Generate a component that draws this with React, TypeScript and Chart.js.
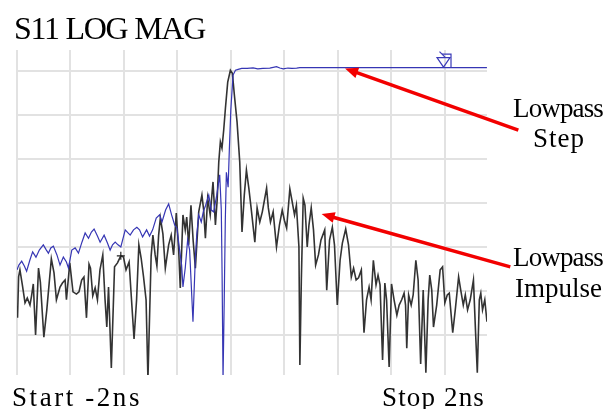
import React, { useEffect, useRef } from "react";
import { Chart, registerables } from "chart.js";

Chart.register(...registerables);

// ---- data (time in ns, magnitude in dB) ----
const impulseTimes = [
  -2.000, -1.996, -1.988, -1.978, -1.960, -1.940, -1.923, -1.903, -1.891, -1.878,
  -1.861, -1.839, -1.825, -1.799, -1.777, -1.743, -1.723, -1.705, -1.678, -1.660,
  -1.640, -1.630, -1.605, -1.581, -1.555, -1.536, -1.516, -1.499, -1.480, -1.461,
  -1.450, -1.433, -1.415, -1.398, -1.379, -1.358, -1.341, -1.328, -1.315, -1.294,
  -1.270, -1.248, -1.223, -1.203, -1.184, -1.161, -1.143, -1.124, -1.105, -1.088,
  -1.071, -1.053, -1.034, -1.020, -0.996, -0.983, -0.966, -0.953, -0.940, -0.927,
  -0.908, -0.890, -0.865, -0.846, -0.828, -0.808, -0.790, -0.778, -0.758, -0.741,
  -0.730, -0.715, -0.698, -0.682, -0.665, -0.640, -0.616, -0.603, -0.590, -0.573,
  -0.554, -0.533, -0.515, -0.502, -0.490, -0.478, -0.466, -0.453, -0.440, -0.423,
  -0.403, -0.388, -0.373, -0.353, -0.333, -0.316, -0.299, -0.283, -0.265, -0.248,
  -0.220, -0.203, -0.183, -0.164, -0.132, -0.119, -0.103, -0.083, -0.058, -0.036,
  -0.015, 0.001, 0.018, 0.042, 0.057, 0.077, 0.091, 0.110, 0.117, 0.128,
  0.142, 0.155, 0.172, 0.185, 0.202, 0.219, 0.235, 0.256, 0.275, 0.303,
  0.318, 0.339, 0.360, 0.376, 0.397, 0.418, 0.435, 0.460, 0.481, 0.502,
  0.519, 0.538, 0.556, 0.577, 0.597, 0.616, 0.635, 0.650, 0.667, 0.687,
  0.702, 0.717, 0.736, 0.753, 0.766, 0.785, 0.803, 0.822, 0.843, 0.860,
  0.879, 0.897, 0.908, 0.917, 0.931, 0.950, 0.965, 0.985, 1.002, 1.021,
  1.040, 1.060, 1.077, 1.089, 1.104, 1.117, 1.141, 1.167, 1.185, 1.202,
  1.220, 1.235, 1.261, 1.280, 1.305, 1.321, 1.340, 1.355, 1.372, 1.392,
  1.416, 1.433, 1.445, 1.460, 1.471, 1.484, 1.501, 1.517,
];
const impulseDb = [
  -53.6, -56.1, -46.8, -45.2, -48.6, -52.7, -51.6, -53.2, -51.1, -48.4,
  -60.0, -44.8, -48.0, -60.5, -54.3, -42.7, -45.9, -52.0, -49.1, -48.2,
  -47.5, -52.0, -43.6, -50.2, -50.7, -50.2, -47.5, -46.8, -56.1, -43.9,
  -44.8, -51.1, -49.3, -52.0, -45.2, -41.8, -52.0, -58.2, -49.1, -67.5,
  -44.5, -43.6, -42.0, -42.3, -45.2, -43.4, -52.0, -60.9, -52.0, -39.5,
  -42.5, -46.8, -52.0, -70.0, -42.0, -37.3, -41.8, -44.3, -37.3, -33.4,
  -37.0, -44.8, -39.5, -37.3, -41.8, -32.3, -40.7, -49.3, -32.7, -36.1,
  -33.2, -39.5, -30.5, -38.4, -44.8, -32.0, -28.2, -31.6, -38.0, -28.9,
  -32.7, -25.2, -35.0, -29.3, -20.7, -16.1, -17.5, -13.4, -8.4, -2.5,
  0.2, -0.5, -5.5, -11.6, -20.7, -36.6, -28.2, -22.5, -26.6, -31.1,
  -38.9, -31.1, -34.3, -32.0, -26.6, -31.1, -34.3, -32.0, -40.0, -35.0,
  -31.6, -33.9, -35.7, -26.8, -29.3, -32.7, -30.5, -40.0, -66.8, -47.5,
  -28.9, -30.5, -40.0, -35.0, -31.1, -36.1, -44.1, -41.8, -38.4, -36.1,
  -49.8, -38.4, -35.5, -39.5, -53.2, -43.0, -39.1, -35.9, -39.5, -46.8,
  -44.8, -47.5, -47.0, -45.2, -59.5, -52.0, -49.1, -52.0, -43.0, -48.6,
  -46.4, -48.6, -65.7, -48.2, -52.0, -67.3, -48.4, -52.0, -55.5, -53.2,
  -52.0, -50.5, -53.2, -63.0, -50.9, -53.2, -50.9, -43.0, -47.5, -66.6,
  -49.8, -68.6, -52.0, -46.4, -49.8, -58.2, -53.2, -45.2, -44.5, -52.7,
  -50.9, -50.5, -59.5, -54.3, -46.8, -49.8, -53.2, -50.9, -54.3, -52.0,
  -47.5, -60.2, -68.6, -52.0, -50.5, -54.3, -52.0, -57.0,
];

const stepTimes = [
  -2.000, -1.986, -1.965, -1.945, -1.928, -1.904, -1.883, -1.858, -1.833, -1.803,
  -1.780, -1.765, -1.747, -1.728, -1.701, -1.678, -1.653, -1.630, -1.615, -1.590,
  -1.565, -1.540, -1.514, -1.490, -1.465, -1.443, -1.423, -1.398, -1.378, -1.348,
  -1.323, -1.303, -1.285, -1.265, -1.244, -1.223, -1.190, -1.169, -1.153, -1.128,
  -1.103, -1.083, -1.060, -1.030, -1.008, -0.985, -0.958, -0.933, -0.915, -0.888,
  -0.865, -0.843, -0.820, -0.803, -0.783, -0.768, -0.758, -0.741, -0.723, -0.708,
  -0.683, -0.666, -0.655, -0.640, -0.621, -0.606, -0.588, -0.565, -0.546, -0.528,
  -0.505, -0.483, -0.471, -0.465, -0.458, -0.449, -0.441, -0.433, -0.420, -0.411,
  -0.400, -0.383, -0.365, -0.345, -0.318, -0.278, -0.233, -0.198, -0.160, -0.108,
  -0.058, -0.033, -0.008, 0.028, 0.057, 0.093, 0.117, 0.600, 1.100, 1.517,
];
const stepDb = [
  -45.2, -44.1, -43.2, -44.3, -45.5, -43.0, -41.1, -42.3, -40.7, -39.5,
  -40.7, -41.4, -40.2, -39.8, -41.8, -44.1, -42.3, -43.4, -44.8, -40.7,
  -40.2, -41.4, -38.9, -36.8, -38.0, -36.6, -35.9, -37.5, -38.9, -37.3,
  -39.1, -40.7, -39.5, -38.9, -39.5, -40.0, -36.1, -36.8, -37.3, -36.1,
  -35.5, -36.1, -37.7, -36.1, -37.5, -36.1, -33.4, -32.7, -34.3, -31.6,
  -30.2, -32.7, -35.0, -35.7, -40.7, -44.1, -49.1, -44.8, -38.4, -40.7,
  -57.0, -43.0, -37.3, -32.7, -34.3, -32.0, -30.5, -28.2, -31.6, -32.0,
  -28.2, -23.6, -31.6, -46.4, -70.0, -52.0, -33.9, -23.0, -26.4, -18.0,
  -8.9, -0.9, 0.2, 0.4, 0.6, 0.6, 0.75, 0.5, 0.6, 0.7,
  1.0, 0.7, 0.5, 0.7, 0.6, 0.7, 0.8, 0.8, 0.8, 0.8,
];

const gridTimes = [-2, -1.6, -1.2, -0.8, -0.4, 0, 0.4, 0.8, 1.2];
const gridDb = [0, -10, -20, -30, -40, -50, -60];
const timeMin = -2;
const timeMax = 1.5175;
const dbMin = -69.1;
const dbMax = 4.8;

const titleLabel = "S11 LOG MAG";
const startLabel = "Start -2ns";
const stopLabel = "Stop 2ns";
const stepLabelLines = ["Lowpass", "Step"];
const impulseLabelLines = ["Lowpass", "Impulse"];

// annotation anchors in data coordinates
const stepArrow = { tipT: 0.455, tipDb: 0.6, tailT: 1.752, tailDb: -13.4 };
const impulseArrow = { tipT: 0.28, tipDb: -32.5, tailT: 1.692, tailDb: -44.5 };
const stepMarker = { t: 1.192, db: 0.8 };
const impulseMarker = { t: -1.223, db: -42.0 };

const FONT = '"Liberation Serif", "Times New Roman", serif';

function fitText(ctx: CanvasRenderingContext2D, text: string, x: number, y: number, width: number, size: number) {
  ctx.save();
  ctx.font = `${size}px ${FONT}`;
  ctx.fillStyle = "#000";
  ctx.textAlign = "left";
  ctx.textBaseline = "alphabetic";
  (ctx as any).letterSpacing = "0px";
  const w = ctx.measureText(text).width;
  const ls = (width - w) / text.length;
  (ctx as any).letterSpacing = `${ls}px`;
  ctx.fillText(text, x, y);
  ctx.restore();
}

function drawArrow(ctx: CanvasRenderingContext2D, x0: number, y0: number, x1: number, y1: number) {
  const ang = Math.atan2(y1 - y0, x1 - x0);
  const headLen = 13;
  const headHalf = 5.5;
  const bx = x1 - headLen * Math.cos(ang);
  const by = y1 - headLen * Math.sin(ang);
  ctx.save();
  ctx.strokeStyle = "#f20000";
  ctx.fillStyle = "#f20000";
  ctx.lineWidth = 3.5;
  ctx.beginPath();
  ctx.moveTo(x0, y0);
  ctx.lineTo(bx + 2 * Math.cos(ang), by + 2 * Math.sin(ang));
  ctx.stroke();
  ctx.beginPath();
  ctx.moveTo(x1, y1);
  ctx.lineTo(bx + headHalf * Math.sin(ang), by - headHalf * Math.cos(ang));
  ctx.lineTo(bx - headHalf * Math.sin(ang), by + headHalf * Math.cos(ang));
  ctx.closePath();
  ctx.fill();
  ctx.restore();
}

const overlayPlugin = {
  id: "overlay",
  afterDraw(chart: any) {
    const ctx: CanvasRenderingContext2D = chart.ctx;
    const xs = chart.scales.x;
    const ys = chart.scales.y;

    // step marker (triangle + flag)
    const mx = xs.getPixelForValue(stepMarker.t);
    const my = ys.getPixelForValue(stepMarker.db);
    ctx.save();
    ctx.strokeStyle = "#3a3ab8";
    ctx.lineWidth = 1.2;
    ctx.beginPath();
    ctx.moveTo(mx - 6.5, my - 10);
    ctx.lineTo(mx + 6.5, my - 10);
    ctx.lineTo(mx, my - 0.5);
    ctx.closePath();
    ctx.stroke();
    ctx.beginPath();
    ctx.moveTo(mx - 1.5, my - 13.5);
    ctx.lineTo(mx + 7.5, my - 13.5);
    ctx.lineTo(mx + 7.5, my);
    ctx.stroke();
    ctx.beginPath();
    ctx.moveTo(mx - 4, my - 16);
    ctx.lineTo(mx + 1.5, my - 10.5);
    ctx.stroke();
    ctx.restore();

    // impulse marker "+"
    const ix = xs.getPixelForValue(impulseMarker.t);
    const iy = ys.getPixelForValue(impulseMarker.db);
    ctx.save();
    ctx.strokeStyle = "#222";
    ctx.lineWidth = 1.2;
    ctx.beginPath();
    ctx.moveTo(ix - 4, iy);
    ctx.lineTo(ix + 4, iy);
    ctx.moveTo(ix, iy - 4);
    ctx.lineTo(ix, iy + 4);
    ctx.stroke();
    ctx.restore();

    // arrows
    drawArrow(ctx, xs.getPixelForValue(stepArrow.tailT), ys.getPixelForValue(stepArrow.tailDb),
      xs.getPixelForValue(stepArrow.tipT), ys.getPixelForValue(stepArrow.tipDb));
    drawArrow(ctx, xs.getPixelForValue(impulseArrow.tailT), ys.getPixelForValue(impulseArrow.tailDb),
      xs.getPixelForValue(impulseArrow.tipT), ys.getPixelForValue(impulseArrow.tipDb));

    // texts
    fitText(ctx, titleLabel, 14, 39, 191, 32);
    fitText(ctx, stepLabelLines[0], 513, 117, 90, 27);
    fitText(ctx, stepLabelLines[1], 533, 147, 52, 27);
    fitText(ctx, impulseLabelLines[0], 513, 266, 90, 27);
    fitText(ctx, impulseLabelLines[1], 515, 297, 87, 27);
    fitText(ctx, startLabel, 12, 406, 130, 27);
    fitText(ctx, stopLabel, 382, 406, 103, 27);
  },
};

export default function App() {
  const canvasRef = useRef<HTMLCanvasElement | null>(null);

  useEffect(() => {
    const canvas = canvasRef.current;
    if (!canvas) return;
    const chart = new Chart(canvas, {
      type: "line",
      data: {
        datasets: [
          {
            label: "Lowpass Step",
            data: stepTimes.map((t, i) => ({ x: t, y: stepDb[i] })),
            borderColor: "#3636b4",
            borderWidth: 1.2,
            pointRadius: 0,
            tension: 0,
            clip: 0,
          },
          {
            label: "Lowpass Impulse",
            data: impulseTimes.map((t, i) => ({ x: t, y: impulseDb[i] })),
            borderColor: "#333333",
            borderWidth: 1.6,
            pointRadius: 0,
            tension: 0,
            clip: 0,
          },
        ],
      },
      options: {
        animation: false,
        responsive: false,
        devicePixelRatio: 1,
        layout: { padding: { left: 17, top: 50, right: 118, bottom: 34 } },
        plugins: {
          legend: { display: false },
          tooltip: { enabled: false },
          title: { display: false },
        },
        scales: {
          x: {
            type: "linear",
            min: timeMin,
            max: timeMax,
            afterBuildTicks: (scale: any) => {
              scale.ticks = gridTimes.map((v) => ({ value: v }));
            },
            ticks: { display: false },
            grid: { color: "#e2e2e2", lineWidth: 2, drawTicks: false },
            border: { display: false },
          },
          y: {
            type: "linear",
            min: dbMin,
            max: dbMax,
            afterBuildTicks: (scale: any) => {
              scale.ticks = gridDb.map((v) => ({ value: v }));
            },
            ticks: { display: false },
            grid: { color: "#e2e2e2", lineWidth: 2, drawTicks: false },
            border: { display: false },
          },
        },
      },
      plugins: [overlayPlugin],
    } as any);
    return () => chart.destroy();
  }, []);

  return (
    <div style={{ position: "fixed", left: 0, top: 0, width: 605, height: 409, background: "#fff" }}>
      <canvas ref={canvasRef} width={605} height={409} style={{ width: 605, height: 409, display: "block" }} />
    </div>
  );
}
